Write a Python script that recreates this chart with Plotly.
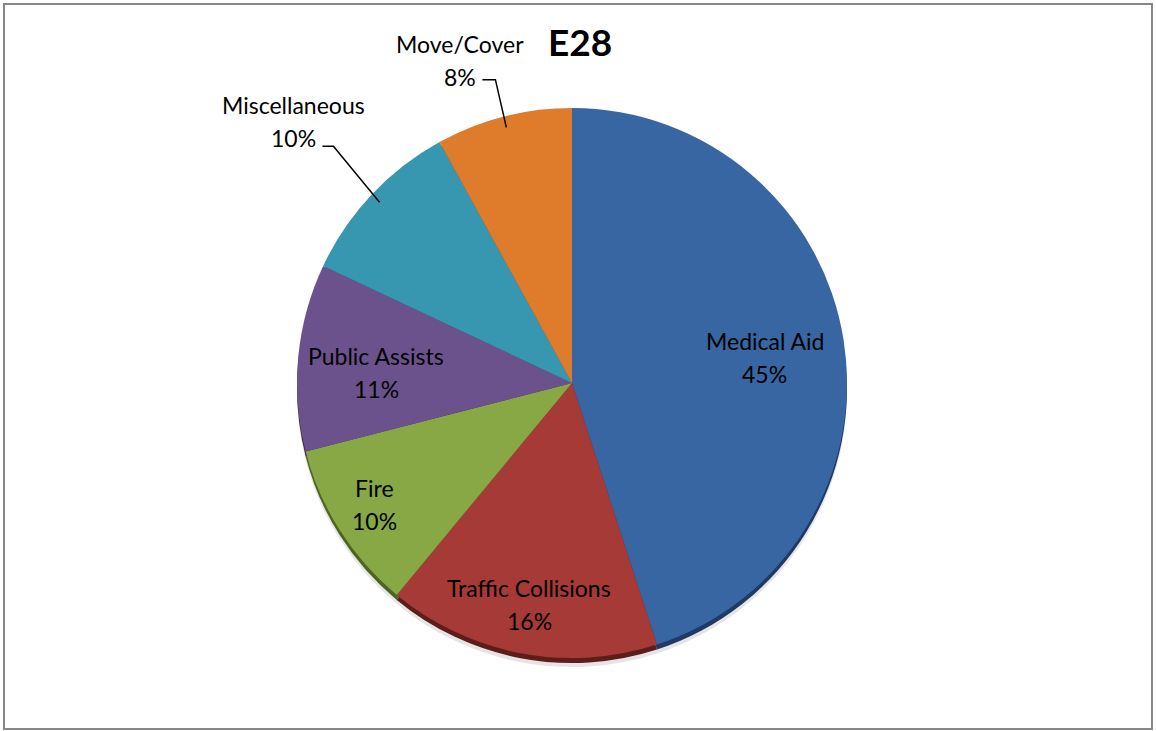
import math
import plotly.graph_objects as go

# ---- data ----
categories = ["Medical Aid", "Traffic Collisions", "Fire", "Public Assists", "Miscellaneous", "Move/Cover"]
percentages = [45, 16, 10, 11, 10, 8]
title_text = "E28"

# ---- style ----
colors = ["#3866a3", "#a53a36", "#87a845", "#6c528c", "#3797b0", "#de7c2c"]
edge_colors = ["#1f3b63", "#5c1d1b", "#4e6423", "#3d2d53", "#1e5667", "#854716"]
inside_factor = {"Medical Aid": 0.71, "Traffic Collisions": 0.83, "Fire": 0.84, "Public Assists": 0.70}
outside_factor = {"Miscellaneous": 1.21, "Move/Cover": 1.12}
label_nudge = {"Medical Aid": (0, 5), "Traffic Collisions": (0, -3), "Fire": (-2, -3),
               "Public Assists": (-4, 7), "Miscellaneous": (4, -9), "Move/Cover": (0, -5)}
outside_text_offset = {"Miscellaneous": (-40, -25), "Move/Cover": (-35, -20)}
outside_tick = {"Miscellaneous": 11, "Move/Cover": 13}
FONT = "Lato"
W, H = 1156, 731
CX, CY, R = 572, 383, 275


def px_x(x):
    return x / W


def px_y(y):
    return 1 - y / H


def domain(dy=0):
    return dict(x=[px_x(CX - R), px_x(CX + R)], y=[px_y(CY + R + dy), px_y(CY - R + dy)])


fig = go.Figure()
common = dict(labels=categories, values=percentages, sort=False, direction="clockwise",
              rotation=0, textinfo="none", hoverinfo="none", showlegend=False)
fig.add_trace(go.Pie(**common, domain=domain(9),
                     marker=dict(colors=["rgba(0,0,0,0.10)"] * len(categories), line=dict(width=0))))
fig.add_trace(go.Pie(**common, domain=domain(5),
                     marker=dict(colors=edge_colors, line=dict(width=0))))
fig.add_trace(go.Pie(**common, domain=domain(0),
                     marker=dict(colors=colors, line=dict(width=0))))

total = sum(percentages)
annotations = []
shapes = [dict(type="rect", xref="paper", yref="paper", x0=px_x(4), x1=px_x(1152),
               y0=px_y(729), y1=px_y(4), line=dict(color="#878787", width=2))]


def point(theta_deg, f):
    t = math.radians(theta_deg)
    return CX + f * R * math.sin(t), CY - f * R * math.cos(t)


def add_label(name, pct, x, y):
    annotations.append(dict(x=px_x(x), y=px_y(y - 16), xref="paper", yref="paper", text=name,
                            showarrow=False, xanchor="center", yanchor="middle",
                            font=dict(family=FONT, size=23, color="#000000")))
    annotations.append(dict(x=px_x(x), y=px_y(y + 17), xref="paper", yref="paper", text=f"{pct}%",
                            showarrow=False, xanchor="center", yanchor="middle",
                            font=dict(family=FONT, size=23, color="#000000")))


cum = 0
for name, v in zip(categories, percentages):
    mid = (cum + v / 2) / total * 360
    cum += v
    pct = round(v / total * 100)
    nx, ny = label_nudge[name]
    if name in inside_factor:
        x, y = point(mid, inside_factor[name])
        add_label(name, pct, x + nx, y + ny)
    else:
        ex, ey = point(mid, outside_factor[name])
        ex, ey = ex + nx, ey + ny
        sx, sy = point(mid, 0.96)
        tx = ex - outside_tick[name]
        shapes.append(dict(type="path", xref="paper", yref="paper",
                           path=f"M {px_x(tx)},{px_y(ey)} L {px_x(ex)},{px_y(ey)} L {px_x(sx)},{px_y(sy)}",
                           line=dict(color="#000000", width=1.5)))
        ox, oy = outside_text_offset[name]
        add_label(name, pct, ex + ox, ey + oy)

annotations.append(dict(x=px_x(580), y=px_y(41), xref="paper", yref="paper", text=f"<b>{title_text}</b>",
                        showarrow=False, xanchor="center", yanchor="middle",
                        font=dict(family=FONT, size=37, color="#000000")))

fig.update_layout(width=W, height=H, margin=dict(l=0, r=0, t=0, b=0),
                  paper_bgcolor="#ffffff", plot_bgcolor="#ffffff",
                  annotations=annotations, shapes=shapes)
fig.write_html("out.html", config={"displayModeBar": False},
               post_script="document.body.style.margin='0';document.body.style.padding='0';")
